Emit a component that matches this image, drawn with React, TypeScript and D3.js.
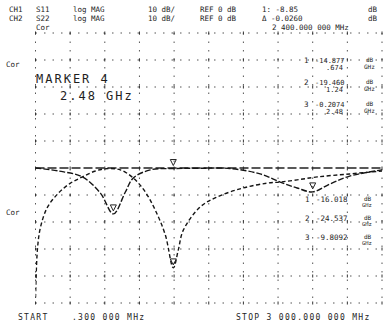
import React from 'react';
import * as d3 from 'd3';

// Frequencies in MHz, magnitudes in dB
const freqS11 = [0.3, 199, 406, 562, 674, 778, 847, 994, 1193, 1427, 1686, 1945, 2118, 2265, 2400, 2550, 2720, 3000];
const dbS11 = [0, -1.1, -3.3, -9.3, -17.0, -8.9, -3.7, -0.7, -0.2, -0.1, -0.2, -2.2, -5.2, -7.4, -8.85, -5.9, -3.0, -0.7];

const freqS22 = [0.3, 17, 43, 104, 199, 303, 406, 519, 631, 735, 847, 951, 1037, 1124, 1193, 1236, 1280, 1427, 1574, 1798, 2006, 2118, 2265, 2440, 2720, 3000];
const dbS22 = [-48, -30, -22, -14.5, -9.3, -5.6, -3.3, -1.1, -0.2, -0.7, -3.7, -8.9, -15.6, -24.8, -37, -30.4, -23, -14.4, -10.7, -7.4, -5.6, -5.2, -4.4, -3.3, -2.2, -1.1];

const freqTicks = [0, 300, 600, 900, 1200, 1500, 1800, 2100, 2400, 2700, 3000];
const dbTicks = [-50, -40, -30, -20, -10, 0, 10, 20, 30, 40, 50];

const markerS11 = [674, 1193, 2400];
const markerS22 = [1193];

const header1 = ['CH1', 'S11', 'log MAG', '10 dB/', 'REF 0 dB', '1: -8.85', 'dB'];
const header2 = ['CH2', 'S22', 'log MAG', '10 dB/', 'REF 0 dB', '\u0394 -0.0260', 'dB'];
const markerFreqText = '2 400.000 000 MHz';

const listUpper = [
  ['1', '-14.877', 'dB', '.674', 'GHz'],
  ['2', '-19.460', 'dB', '1.24', 'GHz'],
  ['3', '-0.2074', 'dB', '2.48', 'GHz'],
];
const listLower = [
  ['1', '-16.018', 'dB', '', 'GHz'],
  ['2', '-24.537', 'dB', '', 'GHz'],
  ['3', '-9.8092', 'dB', '', 'GHz'],
];

const startText = ['START', '.300 000 MHz'];
const stopText = 'STOP 3 000.000 000 MHz';

const W = 386;
const H = 324;
const left = 35.5;
const right = 382;
const top = 33;
const bottom = 303;

export default function App() {
  const x = d3.scaleLinear().domain([0, 3000]).range([left, right]);
  const y = d3.scaleLinear().domain([-50, 50]).range([bottom, top]);

  const line = d3
    .line<[number, number]>()
    .x((d) => x(d[0]))
    .y((d) => y(d[1]))
    .curve(d3.curveCatmullRom.alpha(0.5));

  const pathA = line(freqS11.map((f, i) => [f, dbS11[i]] as [number, number])) || '';
  const pathB = line(freqS22.map((f, i) => [f, dbS22[i]] as [number, number])) || '';

  const interp = (fs: number[], vs: number[], f: number) => {
    const i = fs.findIndex((v) => v >= f);
    if (i <= 0) return vs[0];
    const t = (f - fs[i - 1]) / (fs[i] - fs[i - 1]);
    return vs[i - 1] + t * (vs[i] - vs[i - 1]);
  };

  const font = "'DejaVu Sans Mono', monospace";
  const ink = '#1e1e1e';

  const headerXs = [9, 36, 73, 148, 200, 262, 368];

  return (
    <svg
      width={W}
      height={H}
      style={{ position: 'absolute', left: 0, top: 0, background: '#fff' }}
      fontFamily={font}
    >
      <defs>
        <clipPath id="plot">
          <rect x={left} y={top} width={right - left} height={bottom - top + 2} />
        </clipPath>
      </defs>
      <rect width={W} height={H} fill="#fff" />

      {/* grid */}
      <g stroke="#555" strokeWidth={1} strokeDasharray="1.5,7">
        {freqTicks.map((f, i) => (
          <line key={'v' + i} x1={x(f)} x2={x(f)} y1={top} y2={bottom} />
        ))}
        {dbTicks.filter((d) => d !== 0).map((d, i) => (
          <line key={'h' + i} x1={left} x2={right} y1={y(d)} y2={y(d)} />
        ))}
      </g>
      {/* intersection ticks */}
      <g stroke="#333" strokeWidth={1}>
        {freqTicks.map((f, i) =>
          dbTicks.map((d, j) => (
            <line key={'t' + i + '-' + j} x1={x(f)} x2={x(f)} y1={y(d) - 1.5} y2={y(d) + 1.5} />
          ))
        )}
      </g>
      {/* reference line */}
      <line x1={left} x2={right} y1={y(0)} y2={y(0)} stroke="#222" strokeWidth={1.4} strokeDasharray="9,3" />

      {/* traces */}
      <g clipPath="url(#plot)" fill="none" stroke="#151515" strokeWidth={1.4}>
        <path d={pathA} strokeDasharray="6,2" />
        <path d={pathB} strokeDasharray="4,2.5" />
      </g>

      {/* markers */}
      <g fill="none" stroke="#222" strokeWidth={1}>
        {markerS11.map((f, i) => {
          const px = x(f);
          const py = y(interp(freqS11, dbS11, f));
          return <path key={'ma' + i} d={`M${px - 3},${py - 9}L${px + 3},${py - 9}L${px},${py - 3}Z`} />;
        })}
        {markerS22.map((f, i) => {
          const px = x(f);
          const py = y(interp(freqS22, dbS22, f));
          return <path key={'mb' + i} d={`M${px - 3},${py - 9}L${px + 3},${py - 9}L${px},${py - 3}Z`} />;
        })}
      </g>

      {/* header */}
      <g fill={ink} fontSize={7.5}>
        {header1.map((t, i) => (
          <text key={'h1' + i} x={headerXs[i]} y={12}>{t}</text>
        ))}
        {header2.map((t, i) => (
          <text key={'h2' + i} x={headerXs[i]} y={21}>{t}</text>
        ))}
        <text x={36} y={29.5}>Cor</text>
        <text x={272} y={30}>{markerFreqText}</text>
        <text x={6} y={67}>Cor</text>
        <text x={6} y={215}>Cor</text>
      </g>

      {/* marker annotation */}
      <g fill={ink} fontSize={12} letterSpacing={2}>
        <text x={36} y={83}>MARKER 4</text>
        <text x={60} y={100}>2.48 GHz</text>
      </g>

      {/* marker lists */}
      <g fill={ink}>
        {listUpper.map((r, i) => (
          <g key={'lu' + i} transform={`translate(0, ${63 + i * 22})`}>
            <text x={304} y={0} fontSize={7.5}>{r[0]}</text>
            <text x={315} y={0} fontSize={7}>{r[1]}</text>
            <text x={366} y={-1} fontSize={6}>{r[2]}</text>
            <text x={326} y={7} fontSize={7}>{r[3]}</text>
            <text x={364} y={6} fontSize={6}>{r[4]}</text>
          </g>
        ))}
        {listLower.map((r, i) => (
          <g key={'ll' + i} transform={`translate(0, ${202 + i * 19})`}>
            <text x={305} y={0} fontSize={7.5}>{r[0]}</text>
            <text x={316} y={0} fontSize={7.5}>{r[1]}</text>
            <text x={364} y={-1} fontSize={6}>{r[2]}</text>
            <text x={362} y={5} fontSize={5.5}>{r[4]}</text>
          </g>
        ))}
      </g>

      {/* footer */}
      <g fill={ink} fontSize={8} letterSpacing={1.3}>
        <text x={18} y={320}>{startText[0]}</text>
        <text x={72} y={320}>{startText[1]}</text>
        <text x={236} y={320}>{stopText}</text>
      </g>
    </svg>
  );
}
